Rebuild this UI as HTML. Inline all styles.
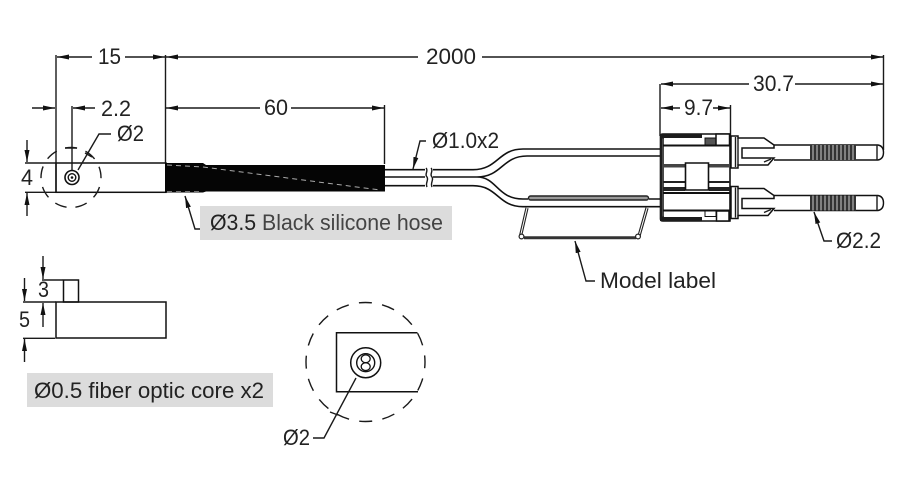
<!DOCTYPE html>
<html><head><meta charset="utf-8"><style>
html,body{margin:0;padding:0;background:#fff;width:900px;height:491px;overflow:hidden}
svg{display:block}
text{font-family:"Liberation Sans",sans-serif;font-size:22.5px;fill:#222}
.l{fill:none;stroke:#1a1a1a;stroke-width:1.4}
.t{fill:none;stroke:#111;stroke-width:2}
.d{fill:none;stroke:#1a1a1a;stroke-width:1.4}
.w{fill:#fff;stroke:#111;stroke-width:1.6}
</style></head><body>
<svg width="900" height="491" viewBox="0 0 900 491" xmlns="http://www.w3.org/2000/svg">
<defs>
<marker id="a" viewBox="0 0 12 6" refX="12" refY="3" markerWidth="12" markerHeight="6" markerUnits="userSpaceOnUse" orient="auto-start-reverse"><path d="M0 .5L12 3L0 5.5Z" fill="#111"/></marker>
</defs>
<rect width="900" height="491" fill="#fff"/>
<!-- gray boxes -->
<rect x="200" y="206" width="252" height="34" fill="#dcdcdc"/>
<rect x="27" y="373" width="246" height="34" fill="#dcdcdc"/>
<!-- extension lines -->
<path class="l" d="M56 55V192M165.500 55V163M384.500 105V164M660 84V136M883.500 55V150M730.500 105V136M72 106V178M25 163H56M25 192.300H56M65 148H77"/>
<!-- dims -->
<path class="l" marker-start="url(#a)" d="M57 57H92"/>
<path class="l" marker-end="url(#a)" d="M125 57H165"/>
<path class="l" marker-start="url(#a)" d="M166 57H418"/>
<path class="l" marker-end="url(#a)" d="M482 57H883"/>
<path class="l" marker-end="url(#a)" d="M32 108H55"/>
<path class="l" marker-start="url(#a)" d="M73 108H95"/>
<path class="l" marker-start="url(#a)" d="M166 108H260"/>
<path class="l" marker-end="url(#a)" d="M291 108H384"/>
<path class="l" marker-start="url(#a)" d="M661 84H749"/>
<path class="l" marker-end="url(#a)" d="M795 84H883"/>
<path class="l" marker-start="url(#a)" d="M661 108H680"/>
<path class="l" marker-end="url(#a)" d="M713 108H730"/>
<path class="l" marker-end="url(#a)" d="M27 140V162"/>
<path class="l" marker-end="url(#a)" d="M27 216V193"/>
<!-- head -->
<rect class="t" x="56" y="163" width="110" height="29.300" style="stroke-width:1.5"/>
<circle class="d" cx="71" cy="177.500" r="30" stroke-dasharray="12 8.940" stroke-dashoffset="-9.650"/>
<circle cx="72" cy="177.500" r="7" fill="#fff" stroke="#111" stroke-width="1.600"/>
<circle cx="72" cy="177.500" r="3.800" fill="none" stroke="#111" stroke-width="1.400"/>
<circle cx="72" cy="177.500" r="1.300" fill="#111"/>
<path class="l" d="M78 170L99 134H111M85 153L92 157"/>
<!-- hose -->
<path d="M165 163H203L206 165H385V191.500H206L203 192.500H165Z" fill="#050505"/>
<path d="M167 165L203 167L380 190" fill="none" stroke="#aaa" stroke-width="1" stroke-dasharray="5 4"/>
<path d="M167 191.500H200" fill="none" stroke="#777" stroke-width="1" stroke-dasharray="5 4"/>
<path class="l" marker-end="url(#a)" d="M200 229H195L185 196"/>
<!-- cables -->
<path class="t" style="stroke-width:1.600" d="M385 169.700H425M385 177H425M385 185.700H425M433 169.700H473C498 169.700 498 149 523 149H660M433 177H477C502 177 502 156 527 156H660M477 177C497 177 497 199 523 199H528M433 185.700H473C498 185.700 498 206.700 523 206.700H660M649 199H660"/>
<path class="l" d="M426 168C429 171 424 174 427 177C429 180 425 183 427 187M431 168C434 171 429 174 432 177C434 180 430 183 432 187"/>
<path class="l" marker-end="url(#a)" d="M426 141H420L413 169"/>
<!-- label -->
<rect x="528.500" y="196" width="120" height="4" rx="2" fill="#999" stroke="#222" stroke-width="1.400"/>
<path d="M527 208L520.500 236M647 208L639 236" fill="none" stroke="#222" stroke-width="3.200"/>
<path d="M527 208L520.500 236M647 208L639 236" fill="none" stroke="#fff" stroke-width="1"/>
<path d="M524 237.700H636" fill="none" stroke="#333" stroke-width="3"/>
<circle cx="521.500" cy="236.500" r="2.400" fill="#fff" stroke="#222" stroke-width="1.200"/>
<circle cx="638" cy="236.500" r="2.400" fill="#fff" stroke="#222" stroke-width="1.200"/>
<path class="l" marker-end="url(#a)" d="M595 281H586L575 241"/>
<!-- connector body -->
<path class="w" d="M660.500 136Q660.500 134 663 134H730V221H663Q660.500 221 660.500 219Z"/>
<path d="M660 134H702V138H664V217H702V221H660Z" fill="#1c1c1c"/>
<path d="M663 138.500V216.500" stroke="#666" stroke-width="1.200" fill="none"/>
<rect x="705" y="138" width="11" height="7.500" fill="#555" stroke="#111"/>
<rect x="716" y="134" width="13.500" height="11.500" fill="#fff" stroke="#111" stroke-width="1.500"/>
<rect x="705" y="211" width="11" height="5.500" fill="#fff" stroke="#111"/>
<rect x="716.500" y="211" width="12.500" height="10" fill="#fff" stroke="#111" stroke-width="1.500"/>
<path class="t" d="M663 145.500H730M663 193H730M663 210.500H730"/>
<path d="M663 164H685V167.500H663ZM709 164H730V167.500H709Z" fill="#444"/>
<path d="M663 181H685V183H663ZM709 181H730V183H709ZM663 187H685V191H663ZM709 187H730V191H709Z" fill="#222"/>
<path class="w" d="M685.500 163H708.500V190H685.500Z"/>
<!-- upper pin -->
<g>
<path d="M774 145H878Q883.500 146 883.500 152.500Q883.500 159 878 160H774" fill="#fff" stroke="#111" stroke-width="1.400"/>
<path class="l" d="M877 145V160"/>
<path class="w" d="M731 136H738V138H764L774 145V148H742V158H774L768 165H738V168H731Z" style="stroke-width:1.500"/>
<path class="l" d="M735.500 137V167M738 138V165M764 162L771 159"/>
<path d="M810 145H856V160H810Z" fill="#333"/>
<path d="M813 145V160M817 145V160M821 145V160M825 145V160M829 145V160M833 145V160M837 145V160M841 145V160M845 145V160M849 145V160M853 145V160" stroke="#ccc" stroke-width="1" fill="none"/>
</g>
<!-- lower pin -->
<g transform="translate(0,50.500)">
<path d="M774 145H878Q883.500 146 883.500 152.500Q883.500 159 878 160H774" fill="#fff" stroke="#111" stroke-width="1.400"/>
<path class="l" d="M877 145V160"/>
<path class="w" d="M731 136H738V138H764L774 145V148H742V158H774L768 165H738V168H731Z" style="stroke-width:1.500"/>
<path class="l" d="M735.500 137V167M738 138V165M764 162L771 159"/>
<path d="M810 145H856V160H810Z" fill="#333"/>
<path d="M813 145V160M817 145V160M821 145V160M825 145V160M829 145V160M833 145V160M837 145V160M841 145V160M845 145V160M849 145V160M853 145V160" stroke="#ccc" stroke-width="1" fill="none"/>
</g>
<path class="l" marker-end="url(#a)" d="M832 241H824L814 212"/>
<!-- side view -->
<rect class="t" x="56" y="302" width="110" height="36" style="stroke-width:1.500"/>
<rect class="t" x="63.500" y="280" width="15" height="22" style="stroke-width:1.500"/>
<path class="l" d="M42 280H63M23 302H56M23 338.300H55"/>
<path class="l" marker-end="url(#a)" d="M43 256V279"/>
<path class="l" marker-end="url(#a)" d="M43 327V303"/>
<path class="l" marker-end="url(#a)" d="M24.500 278V301"/>
<path class="l" marker-end="url(#a)" d="M24.500 362V339"/>
<!-- detail -->
<circle class="d" cx="365.500" cy="362" r="59.500" stroke-dasharray="13 10.370" stroke-dashoffset="-16.600"/>
<path class="t" style="stroke-width:1.500" d="M417.500 332.700H336.500V391.700H418"/>
<circle cx="365.700" cy="362.700" r="15" fill="#fff" stroke="#111" stroke-width="1.500"/>
<circle cx="365.700" cy="362.700" r="9" fill="none" stroke="#111" stroke-width="1.400"/>
<ellipse cx="365.700" cy="358.800" rx="4.500" ry="3.900" fill="none" stroke="#111" stroke-width="1.300"/>
<ellipse cx="365.700" cy="366.600" rx="4.500" ry="3.900" fill="none" stroke="#111" stroke-width="1.300"/>
<path class="l" d="M356 378L324 438H313M330 412L338 415"/>
<!-- text -->
<text x="98" y="64" textLength="23" lengthAdjust="spacingAndGlyphs">15</text>
<text x="426" y="64" textLength="50" lengthAdjust="spacingAndGlyphs">2000</text>
<text x="101" y="116" textLength="30" lengthAdjust="spacingAndGlyphs">2.2</text>
<text x="264" y="115" textLength="24" lengthAdjust="spacingAndGlyphs">60</text>
<text x="117" y="141" textLength="27" lengthAdjust="spacingAndGlyphs">Ø2</text>
<text x="21" y="185" textLength="12" lengthAdjust="spacingAndGlyphs">4</text>
<text x="432" y="148" textLength="67" lengthAdjust="spacingAndGlyphs">Ø1.0x2</text>
<text x="753" y="91" textLength="41" lengthAdjust="spacingAndGlyphs">30.7</text>
<text x="684" y="115" textLength="29" lengthAdjust="spacingAndGlyphs">9.7</text>
<text x="836" y="248" textLength="45" lengthAdjust="spacingAndGlyphs">Ø2.2</text>
<text x="210" y="230" textLength="233" lengthAdjust="spacingAndGlyphs">Ø3.5 <tspan fill="#444">Black silicone hose</tspan></text>
<text x="600" y="288" textLength="116" lengthAdjust="spacingAndGlyphs">Model label</text>
<text x="38" y="297" textLength="11" lengthAdjust="spacingAndGlyphs">3</text>
<text x="19" y="327" textLength="11" lengthAdjust="spacingAndGlyphs">5</text>
<text x="34" y="398" textLength="230" lengthAdjust="spacingAndGlyphs">Ø0.5 fiber optic core x2</text>
<text x="283" y="445" textLength="27" lengthAdjust="spacingAndGlyphs">Ø2</text>
</svg>
</body></html>
